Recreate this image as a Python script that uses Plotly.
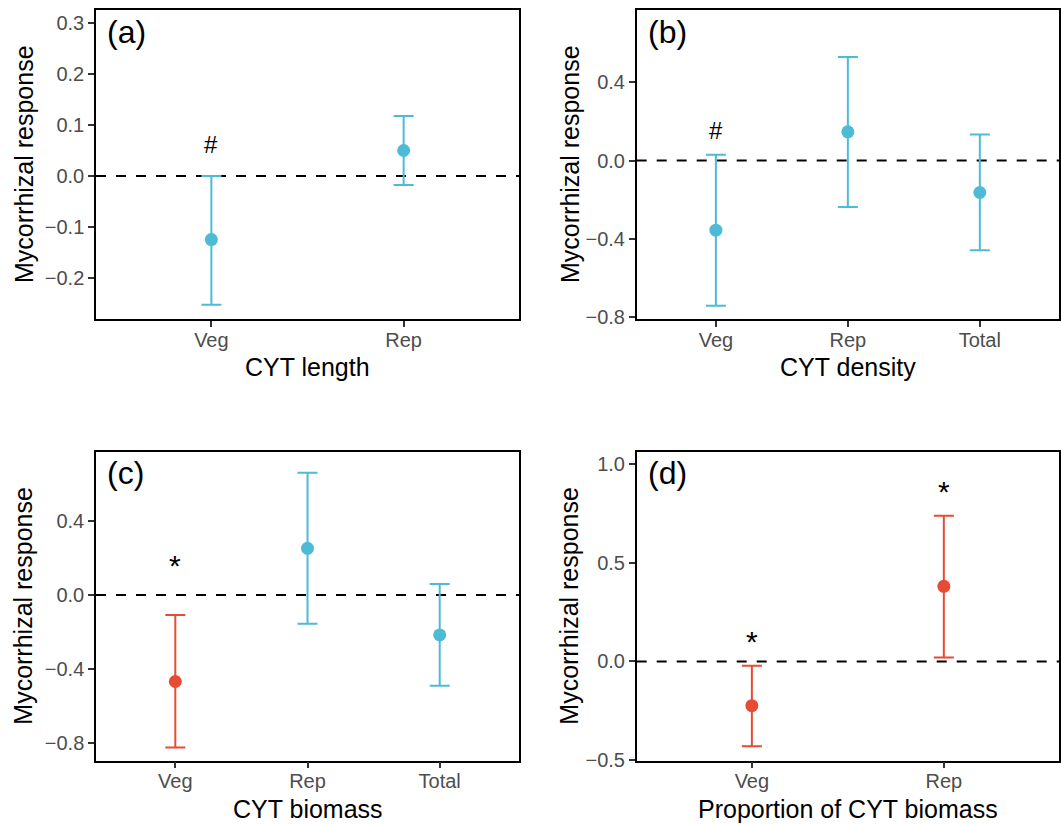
import plotly.graph_objects as go

BLUE = "#4DBBD5"
RED = "#E64B35"

# ---- data ----
a_cats = ["Veg", "Rep"]
a_mean = [-0.125, 0.050]
a_lo = [-0.253, -0.018]
a_hi = [0.000, 0.118]
a_col = [BLUE, BLUE]
a_sig = ["#", ""]
a_sig_y = [0.061, None]

b_cats = ["Veg", "Rep", "Total"]
b_mean = [-0.357, 0.147, -0.164]
b_lo = [-0.744, -0.238, -0.460]
b_hi = [0.029, 0.530, 0.133]
b_col = [BLUE, BLUE, BLUE]
b_sig = ["#", "", ""]
b_sig_y = [0.155, None, None]

c_cats = ["Veg", "Rep", "Total"]
c_mean = [-0.467, 0.251, -0.216]
c_lo = [-0.823, -0.155, -0.490]
c_hi = [-0.108, 0.658, 0.059]
c_col = [RED, BLUE, BLUE]
c_sig = ["*", "", ""]
c_sig_y = [0.16, None, None]

d_cats = ["Veg", "Rep"]
d_mean = [-0.225, 0.381]
d_lo = [-0.431, 0.020]
d_hi = [-0.022, 0.739]
d_col = [RED, RED]
d_sig = ["*", "*"]
d_sig_y = [0.10, 0.86]

x_titles = ["CYT length", "CYT density", "CYT biomass", "Proportion of CYT biomass"]
panel_labels = ["(a)", "(b)", "(c)", "(d)"]
y_title = "Mycorrhizal response"

a_ticks = [-0.2, -0.1, 0.0, 0.1, 0.2, 0.3]
a_ticktext = ["\u22120.2", "\u22120.1", "0.0", "0.1", "0.2", "0.3"]
b_ticks = [-0.8, -0.4, 0.0, 0.4]
b_ticktext = ["\u22120.8", "\u22120.4", "0.0", "0.4"]
c_ticks = [-0.8, -0.4, 0.0, 0.4]
c_ticktext = ["\u22120.8", "\u22120.4", "0.0", "0.4"]
d_ticks = [-0.5, 0.0, 0.5, 1.0]
d_ticktext = ["\u22120.5", "0.0", "0.5", "1.0"]

W, H = 1061, 824
panels = [
    dict(cats=a_cats, mean=a_mean, lo=a_lo, hi=a_hi, col=a_col, sig=a_sig, sig_y=a_sig_y,
         ticks=a_ticks, ticktext=a_ticktext, yrange=[-0.281, 0.326],
         xdom=[96 / W, 519 / W], ydom=[1 - 319 / H, 1 - 10 / H], ytx=23.5, xty=367),
    dict(cats=b_cats, mean=b_mean, lo=b_lo, hi=b_hi, col=b_col, sig=b_sig, sig_y=b_sig_y,
         ticks=b_ticks, ticktext=b_ticktext, yrange=[-0.812, 0.771],
         xdom=[636.7 / W, 1059 / W], ydom=[1 - 319 / H, 1 - 10 / H], ytx=569.5, xty=367),
    dict(cats=c_cats, mean=c_mean, lo=c_lo, hi=c_hi, col=c_col, sig=c_sig, sig_y=c_sig_y,
         ticks=c_ticks, ticktext=c_ticktext, yrange=[-0.894, 0.772],
         xdom=[96 / W, 519 / W], ydom=[1 - 760.7 / H, 1 - 451.7 / H], ytx=23.5, xty=808.5),
    dict(cats=d_cats, mean=d_mean, lo=d_lo, hi=d_hi, col=d_col, sig=d_sig, sig_y=d_sig_y,
         ticks=d_ticks, ticktext=d_ticktext, yrange=[-0.504, 1.064],
         xdom=[636.7 / W, 1059 / W], ydom=[1 - 760.7 / H, 1 - 451.7 / H], ytx=569.5, xty=808.5),
]

FONT = "Liberation Sans, Arial, sans-serif"
fig = go.Figure()
annotations = []
shapes = []

for i, p in enumerate(panels):
    n = i + 1
    xa = "x" if n == 1 else f"x{n}"
    ya = "y" if n == 1 else f"y{n}"
    xkey = "xaxis" if n == 1 else f"xaxis{n}"
    ykey = "yaxis" if n == 1 else f"yaxis{n}"
    ncat = len(p["cats"])

    for j, cat in enumerate(p["cats"]):
        fig.add_trace(go.Scatter(
            x=[j], y=[p["mean"][j]], xaxis=xa, yaxis=ya, mode="markers",
            marker=dict(color=p["col"][j], size=13),
            error_y=dict(type="data", symmetric=False,
                         array=[p["hi"][j] - p["mean"][j]],
                         arrayminus=[p["mean"][j] - p["lo"][j]],
                         color=p["col"][j], thickness=2, width=10),
            showlegend=False, hoverinfo="skip"))
        if p["sig"][j]:
            annotations.append(dict(
                x=j, y=p["sig_y"][j], xref=xa, yref=ya, text=p["sig"][j],
                showarrow=False,
                font=dict(size=24 if p["sig"][j] == "#" else 30, color="black", family=FONT),
                xanchor="center", yanchor="middle"))

    shapes.append(dict(type="line", xref=f"{xa} domain", yref=ya, x0=0, x1=1, y0=0, y1=0,
                       line=dict(color="black", width=2, dash="10px,10px"), layer="below"))

    annotations.append(dict(
        x=0.022, y=0.995, xref=f"{xa} domain", yref=f"{ya} domain", text=panel_labels[i],
        showarrow=False, font=dict(size=32, color="black", family=FONT),
        xanchor="left", yanchor="top"))

    annotations.append(dict(
        x=0.5, y=1 - p["xty"] / H, xref=f"{xa} domain", yref="paper", text=x_titles[i],
        showarrow=False, font=dict(size=25, color="black", family=FONT),
        xanchor="center", yanchor="middle"))
    annotations.append(dict(
        x=p["ytx"] / W, y=0.5, xref="paper", yref=f"{ya} domain", text=y_title,
        textangle=-90, showarrow=False, font=dict(size=25, color="black", family=FONT),
        xanchor="center", yanchor="middle"))

    fig.layout[xkey] = dict(
        domain=p["xdom"], anchor=ya, range=[-0.6, ncat - 0.4], automargin=False,
        tickmode="array", tickvals=list(range(ncat)), ticktext=p["cats"],
        showline=True, linecolor="black", linewidth=1.5, mirror=True,
        ticks="outside", ticklen=6, tickwidth=1.5, tickcolor="#333333",
        ticklabelstandoff=-4,
        tickfont=dict(size=20, color="#4D4D4D", family=FONT),
        showgrid=False, zeroline=False)
    fig.layout[ykey] = dict(
        domain=p["ydom"], anchor=xa, range=p["yrange"], automargin=False,
        tickmode="array", tickvals=p["ticks"], ticktext=p["ticktext"],
        showline=True, linecolor="black", linewidth=1.5, mirror=True,
        ticks="outside", ticklen=6, tickwidth=1.5, tickcolor="#333333",
        tickfont=dict(size=20, color="#4D4D4D", family=FONT),
        showgrid=False, zeroline=False)

fig.update_layout(
    width=W, height=H, margin=dict(l=0, r=0, t=0, b=0),
    paper_bgcolor="white", plot_bgcolor="white",
    annotations=annotations, shapes=shapes, showlegend=False,
    font=dict(family=FONT))

fig.write_html("out.html", config={"displayModeBar": False},
               post_script="document.body.style.margin='0';document.body.style.overflow='hidden';")
